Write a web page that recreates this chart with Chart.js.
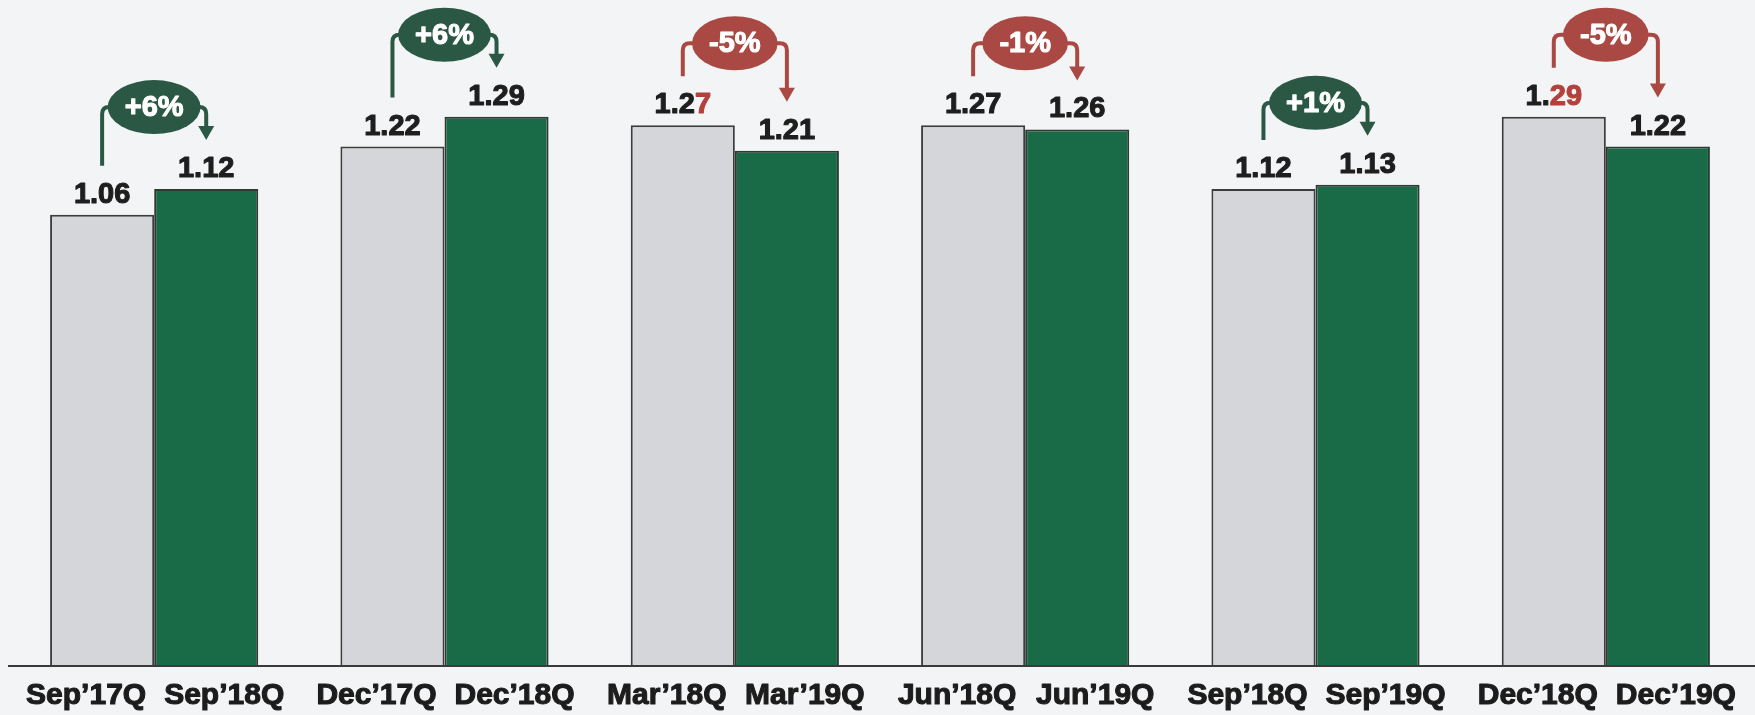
<!DOCTYPE html>
<html>
<head>
<meta charset="utf-8">
<script src="https://cdn.jsdelivr.net/npm/chart.js@4.4.1/dist/chart.umd.min.js"></script>
<style>
  html, body { margin: 0; padding: 0; background: #f3f4f6; }
  #myChart { display: block; }
</style>
</head>
<body>
<canvas id="myChart" width="1755" height="715"></canvas>
<script>
// quarters compared year over year
const quarters = ["Sep", "Dec", "Mar", "Jun", "Sep", "Dec"];
const prevLabels = ["Sep’17Q", "Dec’17Q", "Mar’18Q", "Jun’18Q", "Sep’18Q", "Dec’18Q"];
const currLabels = ["Sep’18Q", "Dec’18Q", "Mar’19Q", "Jun’19Q", "Sep’19Q", "Dec’19Q"];
const prevValues = [1.06, 1.22, 1.27, 1.27, 1.12, 1.29];
const currValues = [1.12, 1.29, 1.21, 1.26, 1.13, 1.22];
const changeLabels = ["+6%", "+6%", "-5%", "-1%", "+1%", "-5%"];
// how many trailing digits of the previous value are printed in red
const redDigits = [0, 0, 1, 0, 0, 2];

const FONT = '"Liberation Sans", Arial, sans-serif';
const GREEN_PILL = "#2b5845";
const RED_PILL = "#aa4843";

// bold text drawn a little heavier, like the original
function heavyText(ctx, txt, x, y, colour) {
  ctx.fillStyle = colour;
  ctx.strokeStyle = colour;
  ctx.lineWidth = 1.1;
  ctx.lineJoin = "round";
  ctx.strokeText(txt, x, y);
  ctx.fillText(txt, x, y);
}

const labelsPlugin = {
  id: "labelsPlugin",
  afterDatasetsDraw(chart) {
    const ctx = chart.ctx;
    const area = chart.chartArea;
    const prevMeta = chart.getDatasetMeta(0).data;
    const currMeta = chart.getDatasetMeta(1).data;

    ctx.save();
    // x axis line
    ctx.strokeStyle = "#3a3a3a";
    ctx.lineWidth = 2;
    ctx.beginPath();
    ctx.moveTo(8, area.bottom);
    ctx.lineTo(chart.width, area.bottom);
    ctx.stroke();

    // category labels under each bar
    ctx.font = "bold 30px " + FONT;
    ctx.textAlign = "center";
    ctx.textBaseline = "middle";
    prevMeta.forEach((el, i) => heavyText(ctx, prevLabels[i], el.x - 16, area.bottom + 30, "#1c1c1c"));
    currMeta.forEach((el, i) => heavyText(ctx, currLabels[i], el.x + 18, area.bottom + 30, "#1c1c1c"));

    // value labels
    ctx.font = "bold 29px " + FONT;
    ctx.textBaseline = "alphabetic";
    ctx.textAlign = "left";
    const drawValue = (el, txt, red) => {
      const w = ctx.measureText(txt).width;
      let x = el.x - w / 2;
      const y = el.y - 12;
      const black = txt.slice(0, txt.length - red);
      heavyText(ctx, black, x, y, "#1e1e1e");
      if (red > 0) {
        x += ctx.measureText(black).width;
        heavyText(ctx, txt.slice(txt.length - red), x, y, "#b3403a");
      }
      return y - 20; // top of digits
    };

    prevMeta.forEach((el, i) => {
      const g = currMeta[i];
      ctx.font = "bold 29px " + FONT;
      const topPrev = drawValue(el, prevValues[i].toFixed(2), redDigits[i]);
      const topCurr = drawValue(g, currValues[i].toFixed(2), 0);

      // change bubble with bracket arrow
      const colour = changeLabels[i][0] === "+" ? GREEN_PILL : RED_PILL;
      const cx = (el.x + g.x) / 2;
      const cy = Math.min(topPrev, topCurr) - 50;
      const tw = ctx.measureText(changeLabels[i]).width;
      const rx = tw / 2 + 17;
      const ry = 27;

      ctx.strokeStyle = colour;
      ctx.fillStyle = colour;
      ctx.lineWidth = 4;
      ctx.lineJoin = "round";
      ctx.beginPath();
      ctx.moveTo(el.x, topPrev - 17);
      ctx.lineTo(el.x, cy + 7);
      ctx.quadraticCurveTo(el.x, cy, el.x + 7, cy);
      ctx.lineTo(cx - rx + 6, cy);
      ctx.stroke();

      const tip = topCurr - 17;
      ctx.beginPath();
      ctx.moveTo(cx + rx - 6, cy);
      ctx.lineTo(g.x - 7, cy);
      ctx.quadraticCurveTo(g.x, cy, g.x, cy + 7);
      ctx.lineTo(g.x, tip - 12);
      ctx.stroke();
      ctx.beginPath();
      ctx.moveTo(g.x - 8, tip - 14);
      ctx.lineTo(g.x + 8, tip - 14);
      ctx.lineTo(g.x, tip);
      ctx.closePath();
      ctx.fill();

      ctx.beginPath();
      ctx.ellipse(cx, cy, rx, ry, 0, 0, Math.PI * 2);
      ctx.fill();
      ctx.textAlign = "center";
      ctx.textBaseline = "middle";
      heavyText(ctx, changeLabels[i], cx, cy + 1, "#ffffff");
      ctx.textAlign = "left";
      ctx.textBaseline = "alphabetic";
    });
    ctx.restore();
  }
};

const data = {
  labels: quarters,
  datasets: [
    {
      label: "Previous year",
      data: prevValues,
      backgroundColor: "#d5d6da",
      borderColor: "#3c3c3c",
      borderWidth: 2,
      categoryPercentage: 0.717,
      barPercentage: 1
    },
    {
      label: "Current year",
      data: currValues,
      backgroundColor: "#196a47",
      borderColor: "#2f3a33",
      borderWidth: 2,
      categoryPercentage: 0.717,
      barPercentage: 1
    }
  ]
};

new Chart(document.getElementById("myChart"), {
  type: "bar",
  data,
  options: {
    responsive: false,
    animation: false,
    layout: { padding: { left: 9, right: 4, top: 6, bottom: 49 } },
    plugins: { legend: { display: false }, tooltip: { enabled: false } },
    scales: {
      x: { display: false },
      y: { display: false, min: 0, max: 1.55 }
    }
  },
  plugins: [labelsPlugin]
});
</script>
</body>
</html>
